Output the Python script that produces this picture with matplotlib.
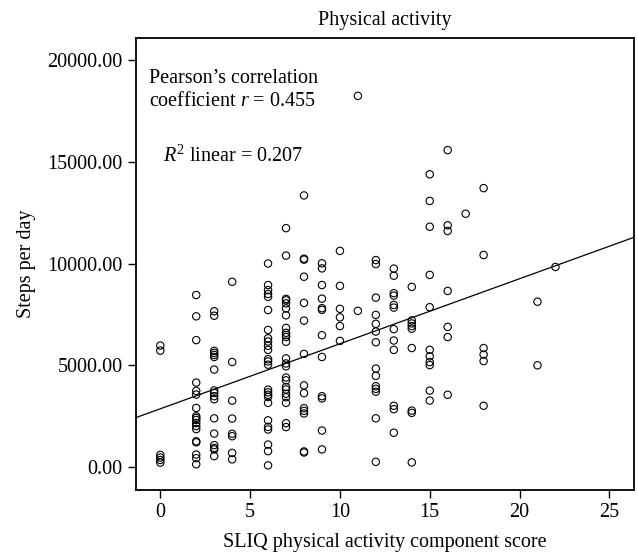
import numpy as np
import matplotlib
matplotlib.use("Agg")
import matplotlib.pyplot as plt

plt.rcParams['font.family'] = ['Liberation Serif', 'DejaVu Serif']
plt.rcParams['mathtext.fontset'] = 'custom'
plt.rcParams['mathtext.rm'] = 'Liberation Serif'
plt.rcParams['mathtext.it'] = 'Liberation Serif:italic'

# ---- data: steps per day for each SLIQ physical activity component score ----
steps_score_0 = [5960, 5710, 580, 450, 330, 200]
steps_score_2 = [8450, 7400, 6230, 4140, 3730, 3550, 2890, 2480, 2400, 2300,
                 2150, 2000, 1850, 1250, 1200, 600, 420, 120]
steps_score_3 = [7650, 7430, 5700, 5600, 5500, 5400, 4780, 3750, 3630, 3470,
                 3320, 2380, 1630, 1060, 920, 850, 520]
steps_score_4 = [9100, 5150, 3250, 2370, 1620, 1500, 680, 360]
steps_score_6 = [10000, 8940, 8690, 8500, 8360, 7710, 6730, 6320, 6160, 5950,
                 5750, 5290, 5180, 5020, 3790, 3660, 3540, 3430, 3140, 2280,
                 1960, 1830, 1090, 765, 64]
steps_score_7 = [11740, 10390, 8260, 8190, 8040, 7790, 7450, 6830, 6590, 6480,
                 6380, 6150, 5330, 5080, 4940, 4390, 4250, 3920, 3800, 3590,
                 3420, 3140, 2140, 1950]
steps_score_8 = [13350, 10240, 10190, 9350, 8060, 7190, 5550, 4000, 3620, 2880,
                 2750, 2620, 750, 700]
steps_score_9 = [10010, 9760, 8940, 8270, 7800, 7720, 6470, 5400, 3470, 3360,
                 1780, 850]
steps_score_10 = [10620, 8900, 7770, 7350, 6920, 6190]
steps_score_11 = [18250, 7670]
steps_score_12 = [10170, 9970, 8320, 7470, 7030, 6650, 6125, 4830, 4470, 3960,
                  3830, 3690, 2380, 240]
steps_score_13 = [9750, 9400, 8540, 8420, 7960, 7830, 6770, 6210, 5750, 3000,
                  2830, 1670]
steps_score_14 = [8850, 7200, 7050, 6920, 6790, 5840, 2760, 2650, 210]
steps_score_15 = [14390, 13080, 11810, 9440, 7850, 5750, 5430, 5150, 5000,
                  3745, 3255]
steps_score_16 = [15580, 11880, 11600, 8650, 6880, 6380, 3540]
steps_score_17 = [12450]
steps_score_18 = [13710, 10420, 5840, 5520, 5200, 3000]
steps_score_21 = [8120, 4990]
steps_score_22 = [9830]

# linear fit line (R^2 linear = 0.207)
fit_intercept = 2850
fit_slope = 320

x_ticks = [0, 5, 10, 15, 20, 25]
y_ticks = [0, 5000, 10000, 15000, 20000]

title = "Physical activity"
x_label = "SLIQ physical activity component score"
y_label = "Steps per day"

groups = {
    0: steps_score_0, 2: steps_score_2, 3: steps_score_3, 4: steps_score_4,
    6: steps_score_6, 7: steps_score_7, 8: steps_score_8, 9: steps_score_9,
    10: steps_score_10, 11: steps_score_11, 12: steps_score_12,
    13: steps_score_13, 14: steps_score_14, 15: steps_score_15,
    16: steps_score_16, 17: steps_score_17, 18: steps_score_18,
    21: steps_score_21, 22: steps_score_22,
}
x = np.concatenate([[k] * len(v) for k, v in groups.items()]).astype(float)
y = np.concatenate([v for v in groups.values()]).astype(float)

fig = plt.figure(figsize=(6.38, 5.6), dpi=100)
ax = fig.add_axes([0.2127, 0.125, 0.9942 - 0.2127, 0.933 - 0.125])

ax.scatter(x, y, s=28, facecolors='none', edgecolors='black', linewidths=0.8,
           zorder=3)

xlim = (-1.37, 26.39)
ylim = (-1147, 21122)
xs = np.array(xlim)
ax.plot(xs, fit_intercept + fit_slope * xs, color='black', lw=0.9, zorder=2)

ax.set_xlim(*xlim)
ax.set_ylim(*ylim)
ax.set_xticks(x_ticks)
ax.set_yticks(y_ticks)
ax.set_yticklabels([f"{v:.2f}" for v in y_ticks])
ax.tick_params(direction='out', length=5.5, width=1.0, labelsize=14.5,
               pad=4, top=False, right=False)
for s in ax.spines.values():
    s.set_linewidth(1.3)

fs = 14.5
ax.set_title(title, fontsize=fs, pad=9)
ax.set_xlabel(x_label, fontsize=fs, labelpad=8)
ax.set_ylabel(y_label, fontsize=fs, labelpad=8)

ax.text(-0.63, 18870, "Pearson\u2019s correlation", fontsize=fs, va='baseline',
        ha='left')
ax.text(-0.63, 17740, "coefficient $r$ = 0.455", fontsize=fs, va='baseline',
        ha='left')
ax.text(0.17, 15010, "$R^2$ linear = 0.207", fontsize=fs, va='baseline',
        ha='left')

fig.savefig("out.png", dpi=100)
